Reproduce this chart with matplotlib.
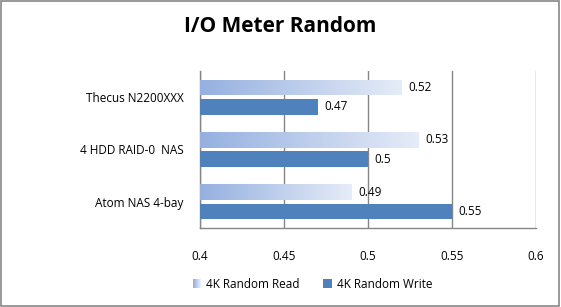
import numpy as np
import matplotlib
matplotlib.use("Agg")
import matplotlib.pyplot as plt
from matplotlib.patches import Rectangle
from matplotlib.legend_handler import HandlerBase
from matplotlib.colors import LinearSegmentedColormap

categories = ["Atom NAS 4-bay", "4 HDD RAID-0  NAS", "Thecus N2200XXX"]
read_vals = [0.49, 0.53, 0.52]
write_vals = [0.55, 0.5, 0.47]
read_label = "4K Random Read"
write_label = "4K Random Write"
xticks = [0.4, 0.45, 0.5, 0.55, 0.6]
xtick_labels = ["0.4", "0.45", "0.5", "0.55", "0.6"]

plt.rcParams['font.family'] = ['Open Sans', 'DejaVu Sans']

write_color = "#4F81BD"
grad = LinearSegmentedColormap.from_list("g", ["#95B0E0", "#E6ECF8"])
grid_color = "#868686"

fig = plt.figure(figsize=(5.61, 3.07), dpi=100)
ax = fig.add_axes([200 / 561, 1 - 228 / 307, 336 / 561, 157 / 307])

y = np.arange(len(categories))
h = 0.3
off = 0.187

gimg = np.linspace(0, 1, 256).reshape(1, -1)
read_bars = ax.barh(y + off, np.array(read_vals) - 0.4, left=0.4, height=h,
                    color="none", edgecolor="none", zorder=3)
for bar in read_bars:
    x0, y0 = bar.get_x(), bar.get_y()
    im = ax.imshow(gimg, cmap=grad, aspect="auto", zorder=3,
                   extent=[x0, x0 + bar.get_width(), y0, y0 + bar.get_height()])
    im.set_clip_path(bar)
write_bars = ax.barh(y - off, np.array(write_vals) - 0.4, left=0.4, height=h,
                     color=write_color, zorder=3)

for v, yy in zip(read_vals, y + off):
    ax.text(v + 0.004, yy, f"{v:g}", va="center", ha="left", fontsize=8.5, zorder=4)
for v, yy in zip(write_vals, y - off):
    ax.text(v + 0.004, yy, f"{v:g}", va="center", ha="left", fontsize=8.5, zorder=4)

ax.set_xlim(0.4, 0.6)
ax.set_ylim(-0.5, 2.5)
ax.set_xticks(xticks)
ax.set_xticklabels(xtick_labels, fontsize=8.5)
ax.set_yticks(y)
ax.set_yticklabels(categories, fontsize=8.5)
ax.tick_params(axis="x", length=0, pad=16)
ax.tick_params(axis="y", length=0, pad=12)
ax.grid(axis="x", color=grid_color, linewidth=1, zorder=0)
for s in ["top", "right"]:
    ax.spines[s].set_visible(False)
for s in ["left", "bottom"]:
    ax.spines[s].set_color(grid_color)
    ax.spines[s].set_linewidth(1)


class GradHandler(HandlerBase):
    def create_artists(self, legend, orig, xd, yd, w, hh, fontsize, trans):
        s = hh
        x0 = xd + w - s
        arts = []
        n = 8
        for i in range(n):
            r = Rectangle((x0 + i * s / n, yd + (hh - s) / 2), s / n, s,
                          facecolor=grad(i / (n - 1)), edgecolor="none", transform=trans)
            arts.append(r)
        return arts


class SquareHandler(HandlerBase):
    def create_artists(self, legend, orig, xd, yd, w, hh, fontsize, trans):
        s = hh
        x0 = xd + w - s
        return [Rectangle((x0, yd + (hh - s) / 2), s, s, facecolor=write_color,
                          edgecolor="none", transform=trans)]


leg = fig.legend([read_bars, write_bars], [read_label, write_label],
                 loc="center", bbox_to_anchor=(312 / 561, 1 - 284 / 307), ncol=2,
                 frameon=False, fontsize=8.5, handlelength=0.8, handletextpad=0.45,
                 columnspacing=1.9,
                 handler_map={read_bars: GradHandler(), write_bars: SquareHandler()})

fig.text(0.5, 1 - 27 / 307, "I/O Meter Random", ha="center", va="center",
         fontsize=15, fontweight="bold")

fig.patches.append(Rectangle((0.002, 0.003), 0.995, 0.994, transform=fig.transFigure,
                             fill=False, edgecolor="#888888", linewidth=1.2))

fig.savefig("out.png", dpi=100)
